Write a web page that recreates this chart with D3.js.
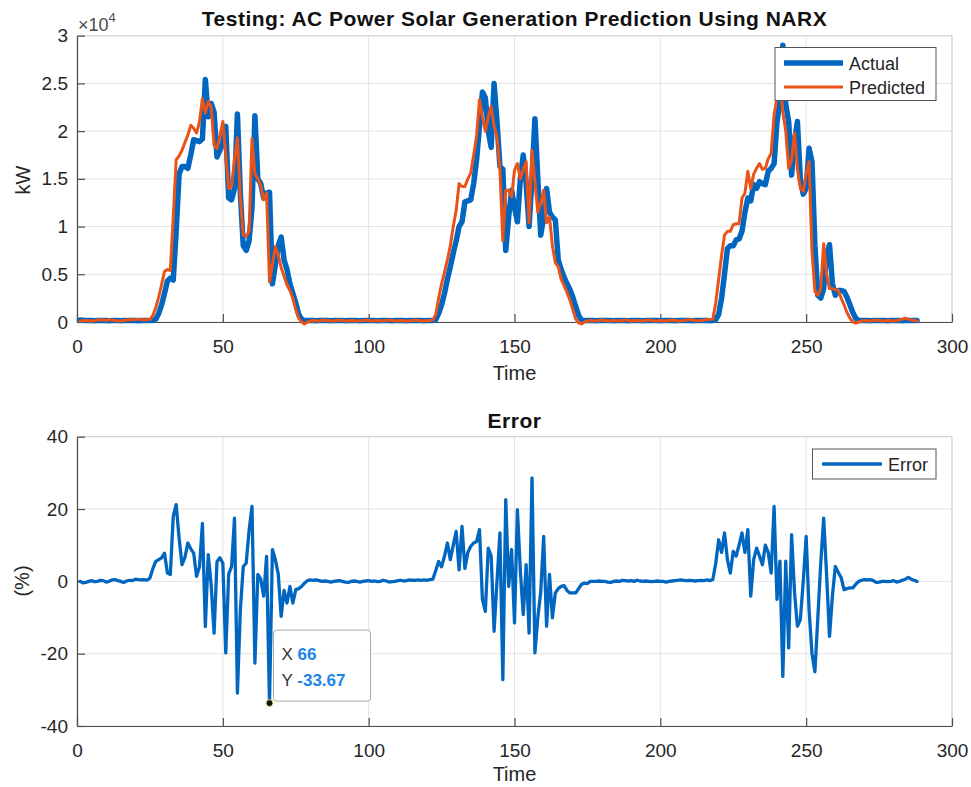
<!DOCTYPE html>
<html>
<head>
<meta charset="utf-8">
<script src="https://cdn.jsdelivr.net/npm/d3@7/dist/d3.min.js"></script>
<style>
  html, body { margin: 0; padding: 0; background: #fff; }
  svg { display: block; font-family: "Liberation Sans", Arial, Helvetica, sans-serif; }
</style>
</head>
<body>
<svg id="chart" width="971" height="787"></svg>
<script>
// Time steps 1..288
const time = d3.range(1, 289);

// AC power, actual (kW)
const actual = [
  200,180,160,150,150,140,150,160,150,150,140,150,
  160,150,140,150,150,160,150,150,140,150,150,160,
  150,150,300,900,1800,3000,4300,4600,4400,9500,15500,16300,
  16300,16100,17500,19100,19000,18900,19200,25400,21500,22900,22000,17300,
  18000,18800,20500,13000,12800,14000,21800,13500,8000,7500,8500,12000,
  21600,15000,14500,13000,13500,13600,4000,6000,8000,8900,6500,5500,
  4000,3000,2000,800,300,150,150,160,150,140,150,160,
  150,150,140,150,160,150,150,140,150,160,150,150,
  140,150,150,160,150,150,140,150,160,150,150,140,
  150,160,150,150,140,150,150,160,150,150,140,150,
  160,150,250,900,1800,3000,4500,5800,7200,8500,10000,10500,
  12600,12700,12800,14500,17000,20500,24100,23500,20000,18300,25000,21000,
  16300,16000,7500,11000,13800,12000,10500,15000,17500,14500,10000,15000,
  21300,15000,9100,11000,14000,11500,11000,10700,6500,5500,4700,4000,
  3400,2600,1600,700,200,150,150,160,150,140,150,150,
  160,150,150,140,150,160,150,150,140,150,150,160,
  150,140,150,150,160,150,150,140,150,160,150,150,
  140,150,150,160,150,150,140,150,150,160,150,150,
  140,150,250,800,2500,5000,7700,8000,8000,8600,8700,9500,
  11500,13000,12700,14400,14000,14700,14500,14400,15800,16100,16600,21000,
  23100,29000,22800,21000,15400,19000,21000,15000,13400,14000,18200,16800,
  8000,2800,2500,3500,7000,8100,4000,2800,3300,3300,3200,2600,
  1800,1000,400,150,150,160,150,140,150,150,160,150,
  150,140,150,160,150,150,140,150,150,160,150,150
];

// AC power, NARX prediction (kW)
const predicted = [
  100,120,150,130,100,120,200,250,200,150,250,200,
  150,120,100,150,200,250,200,250,300,250,200,250,
  250,700,1500,2600,3900,5300,5500,5400,11000,17000,17400,18000,
  18800,19600,20600,20300,19800,21000,23400,21900,23100,22500,18500,18200,
  19500,21000,17500,14000,14200,17000,19300,13000,9100,9000,9500,19200,
  15500,15000,14300,12800,13500,4200,6000,7900,7000,5700,4800,3900,
  3300,2500,1300,400,0,-200,0,100,150,120,100,150,
  200,150,100,120,150,200,150,100,120,150,130,100,
  120,150,200,150,100,120,150,130,100,150,200,150,
  100,120,150,130,100,120,150,200,150,100,120,150,
  150,200,800,2500,4000,5200,6500,8000,10000,11700,14500,14200,
  14200,15000,15600,17500,19500,23300,21500,20000,21500,22600,20500,19400,
  16000,8500,13800,13800,13100,15900,16600,15000,16000,16800,10400,18000,
  14700,11500,12500,13800,10400,11000,8000,6200,5800,4500,3800,3100,
  2300,1300,300,-100,-200,0,100,150,120,100,150,200,
  150,100,120,150,130,100,150,200,150,100,120,150,
  130,100,150,200,150,100,120,150,130,100,150,200,
  150,100,120,150,200,250,200,150,120,150,200,250,
  250,300,2000,4500,7000,9100,9500,9500,10200,10300,10300,13000,
  13500,15800,14000,15500,16100,16600,16000,16100,17100,17700,21700,23500,
  25200,22000,20000,16100,17000,19800,16000,14000,13700,15500,16800,7400,
  3200,2800,3500,8200,5000,3500,3500,3400,3300,2500,1800,1000,
  400,0,-100,0,100,150,120,100,150,200,150,100,
  120,150,130,100,150,200,300,400,300,200,150,100
];

// Prediction error (%)
const errorPct = [
  0,-0.4,-0.3,0,0.2,-0.1,0,0.3,0.2,-0.2,0,0.4,
  0.5,0.2,0,-0.3,0.1,0.3,0.2,0.6,0.5,0.4,0.5,0.3,
  0.9,3.5,5.5,6,6.5,7.8,2.3,1.9,18,21.2,12,4.6,
  6.6,10.6,9,7.8,1.4,4,16,-12.5,7.4,-1,-14.3,5.5,
  6.5,5,-19.8,2,4.1,17.5,-30.9,-8,4.1,5,14,20.7,
  -22.6,1.9,0.6,-4.1,6.9,-33.67,8.8,6,2,-9.7,-2.5,-6,
  -1.4,-6,-2.3,-2,-1.4,-0.5,0.2,0.4,0.3,0.4,0.2,0,
  0.1,0,-0.2,0,0.1,0.2,0,-0.2,-0.3,0,0.1,0,
  -0.2,0,0.1,0.2,0,0.1,-0.1,0,0.3,0.1,-0.2,-0.1,
  0,0.2,0.3,0.1,0.2,0.4,0.3,0.3,0.4,0.3,0.4,0.3,
  0.5,0.6,3,5.5,4,7,10.6,6,10,13.8,3.2,15.2,
  3.6,8,9.7,10.6,11,14.3,-5,-8.3,9.2,7,-13.8,0,
  13.4,-27.2,22.6,-1.4,8.8,-11.5,19.8,3,-9.2,4.6,-14.3,28.6,
  -19.8,-10,-2.8,12.4,-12.4,1.9,-10.1,-3.2,-2,-1.4,-1.2,-2.5,
  -3.2,-3.2,-3.2,-2,-0.8,-0.5,-0.6,0,0,0,0.1,0,
  0,-0.2,-0.3,0,0.1,0,0.3,0.2,0.1,0.2,0,0.3,
  0.1,0,0.1,0,-0.1,0,0.1,0,0,-0.2,0,0.1,
  0.2,0.3,0.4,0.3,0.2,0.3,0.2,0.1,0.2,0.3,0.2,0.4,
  0.2,0.5,5,11.5,8,13.4,6,2.3,8.3,7,10,13.4,
  8,14.3,-4.1,6,9.2,7,4.6,10,8,2.3,20.7,-5,
  5.6,-26.3,5.6,-18.4,12.9,-3,-12.4,-10.6,0,12.4,-8,-20,
  -25,-10,5,17.5,2,-15.2,-4,4.1,2.5,1,-2.3,-2,
  -1.8,-1.8,-0.8,0,0.3,0.5,0.4,0.5,0.2,-0.3,-0.2,0,
  0,-0.1,0,0.2,-0.2,0,0.3,0.6,1.1,0.6,0.3,0
];

// Axis ticks
const xTicks = [0, 50, 100, 150, 200, 250, 300];
const powerTicks = [0, 5000, 10000, 15000, 20000, 25000, 30000];
const errorTicks = [-40, -20, 0, 20, 40];

// Highlighted data tip
const tipTime = 66;
const tipValue = -33.67;

const COL_ACTUAL = "#0066C0";
const COL_PRED = "#EA5218";
const TEXT = "#262626";
const AXIS = "#4d4d4d";
const GRID = "#e3e3e3";
const FRAME = "#cfcfcf";

// plain hyphen-minus for negative numbers
const numFmt = d => String(d);

const svg = d3.select("#chart");
svg.append("rect").attr("width", 971).attr("height", 787).attr("fill", "#fff");

const left = 77, right = 952;

function drawPanel(g, opts) {
  const { x, y, yTicks, yFmt } = opts;
  const [y0, y1] = y.range();   // bottom, top
  // grid
  g.append("g").selectAll("line").data(xTicks).join("line")
    .attr("x1", d => x(d)).attr("x2", d => x(d))
    .attr("y1", y0).attr("y2", y1)
    .attr("stroke", GRID).attr("stroke-width", 1);
  g.append("g").selectAll("line").data(yTicks).join("line")
    .attr("x1", left).attr("x2", right)
    .attr("y1", d => y(d)).attr("y2", d => y(d))
    .attr("stroke", GRID).attr("stroke-width", 1);
  // top and right frame
  g.append("path")
    .attr("d", `M${left},${y1}H${right}V${y0}`)
    .attr("fill", "none").attr("stroke", FRAME).attr("stroke-width", 1);

  const xa = g.append("g").attr("transform", `translate(0,${y0})`)
    .call(d3.axisBottom(x).tickValues(xTicks).tickFormat(numFmt)
      .tickSize(-8).tickPadding(18).tickSizeOuter(0));
  const ya = g.append("g").attr("transform", `translate(${left},0)`)
    .call(d3.axisLeft(y).tickValues(yTicks).tickFormat(yFmt)
      .tickSize(-8).tickPadding(9).tickSizeOuter(0));
  [xa, ya].forEach(a => {
    a.select(".domain").attr("stroke", AXIS).attr("stroke-width", 1.2);
    a.selectAll(".tick line").attr("stroke", AXIS).attr("stroke-width", 1.2);
    a.selectAll(".tick text").attr("fill", TEXT).style("font-size", "19px");
  });
}

// ---------- Top panel: power ----------
const xTop = d3.scaleLinear().domain([0, 300]).range([left, right]);
const yTop = d3.scaleLinear().domain([0, 30000]).range([322, 35.7]);
const gTop = svg.append("g");
drawPanel(gTop, {
  x: xTop, y: yTop, yTicks: powerTicks,
  yFmt: d => String(d / 10000)
});

const lineTop = (vals) => d3.line()
  .x((d, i) => xTop(time[i])).y(d => yTop(d))(vals);

gTop.append("path").attr("d", lineTop(actual))
  .attr("fill", "none").attr("stroke", COL_ACTUAL).attr("stroke-width", 5.5)
  .attr("stroke-linejoin", "round").attr("stroke-linecap", "round");
gTop.append("path").attr("d", lineTop(predicted))
  .attr("fill", "none").attr("stroke", COL_PRED).attr("stroke-width", 3)
  .attr("stroke-linejoin", "round").attr("stroke-linecap", "round");

// exponent label
const expo = gTop.append("text").attr("x", 78).attr("y", 31)
  .attr("fill", "#4a4a4a").style("font-size", "18px");
expo.append("tspan").text("\u00d710");
expo.append("tspan").attr("dy", -9).style("font-size", "13px").text("4");

gTop.append("text").attr("x", (left + right) / 2).attr("y", 26)
  .attr("text-anchor", "middle").attr("fill", "#111")
  .style("font-size", "21px").style("font-weight", "bold").style("letter-spacing", "0.5px")
  .text("Testing: AC Power Solar Generation Prediction Using NARX");
gTop.append("text").attr("x", (left + right) / 2).attr("y", 380)
  .attr("text-anchor", "middle").attr("fill", TEXT).style("font-size", "20px").text("Time");
gTop.append("text").attr("transform", "translate(30,180) rotate(-90)")
  .attr("text-anchor", "middle").attr("fill", TEXT).style("font-size", "20px").text("kW");

// legend
const lgTop = gTop.append("g");
lgTop.append("rect").attr("x", 775).attr("y", 47.5).attr("width", 161).attr("height", 53)
  .attr("fill", "#fff").attr("stroke", "#555").attr("stroke-width", 1);
const legendTop = [
  { name: "Actual", color: COL_ACTUAL, w: 5.5, y: 63 },
  { name: "Predicted", color: COL_PRED, w: 3, y: 87 }
];
legendTop.forEach(d => {
  lgTop.append("line").attr("x1", 784).attr("x2", 843).attr("y1", d.y).attr("y2", d.y)
    .attr("stroke", d.color).attr("stroke-width", d.w);
  lgTop.append("text").attr("x", 849).attr("y", d.y + 6.5)
    .attr("fill", TEXT).style("font-size", "18px").text(d.name);
});

// ---------- Bottom panel: error ----------
const xBot = d3.scaleLinear().domain([0, 300]).range([left, right]);
const yBot = d3.scaleLinear().domain([-40, 40]).range([726, 436.7]);
const gBot = svg.append("g");
drawPanel(gBot, { x: xBot, y: yBot, yTicks: errorTicks, yFmt: numFmt });

gBot.append("path")
  .attr("d", d3.line().x((d, i) => xBot(time[i])).y(d => yBot(d))(errorPct))
  .attr("fill", "none").attr("stroke", COL_ACTUAL).attr("stroke-width", 3.3)
  .attr("stroke-linejoin", "round").attr("stroke-linecap", "round");

gBot.append("text").attr("x", (left + right) / 2).attr("y", 428)
  .attr("text-anchor", "middle").attr("fill", "#111")
  .style("font-size", "21px").style("font-weight", "bold").style("letter-spacing", "0.5px")
  .text("Error");
gBot.append("text").attr("x", (left + right) / 2).attr("y", 781)
  .attr("text-anchor", "middle").attr("fill", TEXT).style("font-size", "20px").text("Time");
gBot.append("text").attr("transform", "translate(29,581) rotate(-90)")
  .attr("text-anchor", "middle").attr("fill", TEXT).style("font-size", "20px").text("(%)");

// legend
const lgBot = gBot.append("g");
lgBot.append("rect").attr("x", 812.5).attr("y", 449).attr("width", 123.5).attr("height", 30)
  .attr("fill", "#fff").attr("stroke", "#555").attr("stroke-width", 1);
lgBot.append("line").attr("x1", 822).attr("x2", 882).attr("y1", 464).attr("y2", 464)
  .attr("stroke", COL_ACTUAL).attr("stroke-width", 3.3);
lgBot.append("text").attr("x", 888).attr("y", 470.5)
  .attr("fill", TEXT).style("font-size", "18px").text("Error");

// data tip
const tx = xBot(tipTime), ty = yBot(tipValue);
const tip = gBot.append("g");
tip.append("rect").attr("x", tx + 4).attr("y", ty - 73).attr("width", 97).attr("height", 71)
  .attr("rx", 3).attr("fill", "rgba(255,255,255,0.9)").attr("stroke", "#a8a8a8").attr("stroke-width", 1);
const tipRows = [
  { k: "X", v: String(tipTime), dy: -43 },
  { k: "Y", v: tipValue.toFixed(2), dy: -17 }
];
tipRows.forEach(r => {
  const t = tip.append("text").attr("x", tx + 12).attr("y", ty + r.dy).style("font-size", "17px");
  t.append("tspan").attr("fill", "#333").text(r.k + " ");
  t.append("tspan").attr("fill", "#1a85e8").style("font-weight", "bold").text(r.v);
});
tip.append("circle").attr("cx", tx).attr("cy", ty).attr("r", 3.5)
  .attr("fill", "#111").attr("stroke", "#f2e27a").attr("stroke-width", 1);
</script>
</body>
</html>
